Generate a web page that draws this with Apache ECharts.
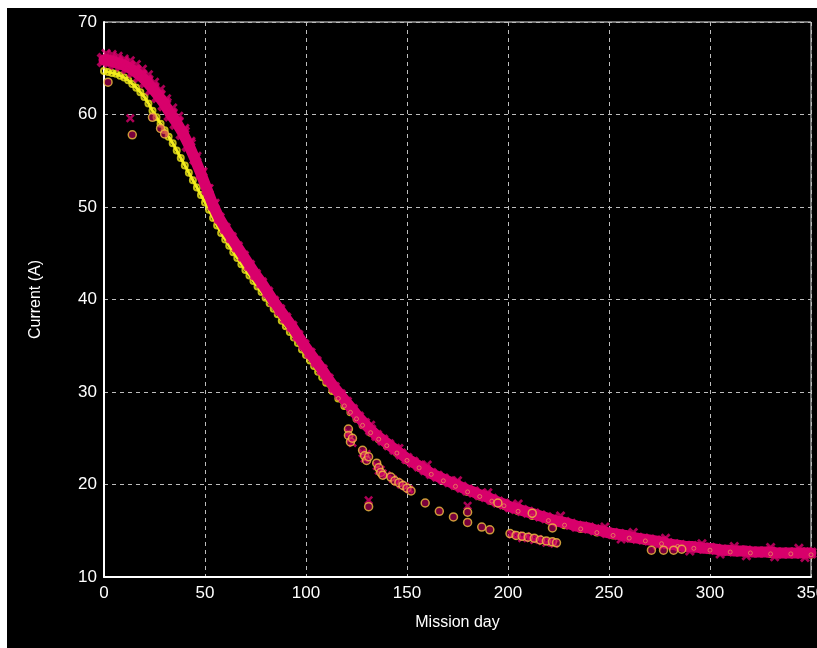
<!DOCTYPE html>
<html>
<head>
<meta charset="utf-8">
<script src="https://cdn.jsdelivr.net/npm/echarts@6/dist/echarts.min.js"></script>
<style>
html,body{margin:0;padding:0;background:#fff;overflow:hidden;}
#chart{position:absolute;left:7px;top:8px;width:810px;height:640px;background:#000;}
</style>
</head>
<body>
<div id="chart"></div>
<script>
// Axis ticks
const xTicks = [0, 50, 100, 150, 200, 250, 300, 350];
const yTicks = [10, 20, 30, 40, 50, 60, 70];

// Main magenta band (mission day, current A)
const magentaBand = [
  [0,65.9],[3,65.8],[6,65.6],[9,65.4],[12,65.1],[15,64.7],[18,64.2],[21,63.6],[24,62.8],[27,62.0],
  [30,61.1],[33,60.0],[36,59.1],[39,58.0],[42,56.7],[45,55.2],[48,53.6],[51,51.9],[54,50.2],[57,48.8],
  [60,47.7],[63,46.7],[66,45.7],[69,44.7],[72,43.7],[75,42.7],[78,41.8],[81,40.8],[84,39.8],[87,38.9],
  [90,38.0],[93,37.1],[96,36.1],[99,35.1],[102,34.2],[105,33.3],[108,32.4],[111,31.4],[114,30.5],[117,29.7],
  [120,28.9],[123,28.1],[126,27.3],[129,26.6],[132,25.9],[135,25.3],[138,24.8],[141,24.3],[144,23.8],[147,23.3],
  [150,22.8],[153,22.4],[156,22.0],[159,21.6],[162,21.2],[165,20.9],[168,20.6],[171,20.3],[174,20.0],[177,19.7],
  [180,19.4],[183,19.2],[186,18.9],[189,18.7],[192,18.4],[195,18.1],[198,17.9],[201,17.6],[204,17.4],[207,17.2],
  [210,17.0],[213,16.8],[216,16.6],[219,16.4],[222,16.2],[225,16.0],[228,15.9],[231,15.7],[234,15.5],[237,15.4],
  [240,15.3],[243,15.1],[246,15.0],[249,14.8],[252,14.7],[255,14.6],[258,14.5],[261,14.3],[264,14.2],[267,14.1],
  [270,14.0],[273,13.9],[276,13.8],[279,13.6],[282,13.5],[285,13.4],[288,13.3],[291,13.3],[294,13.2],[297,13.1],
  [300,13.1],[303,13.0],[306,12.9],[309,12.9],[312,12.8],[315,12.8],[318,12.8],[321,12.7],[324,12.7],[327,12.7],
  [330,12.7],[333,12.6],[336,12.6],[339,12.6],[342,12.6],[345,12.6],[348,12.6],[350,12.6]
];

// Extra crosses scattered around the band edges (texture)
const magentaEdge = [
  [1,66.6],[4,66.5],[7,66.3],[10,66.0],[13,65.8],[16,65.4],[19,64.9],[22,64.3],[25,63.5],[28,62.7],
  [31,61.7],[34,60.7],[37,59.8],[40,58.5],[43,57.1],[46,55.5],[49,53.8],[52,52.0],[55,50.4],
  [132,26.4],[146,23.9],[160,22.1],[175,20.4],[190,19.1],[205,17.9],[226,16.6],[248,15.4],
  [262,14.8],[278,14.2],[296,13.6],[312,13.3],[330,13.2],[344,13.1],
  [256,14.1],[274,13.4],[290,12.8],[305,12.5],[318,12.3],[332,12.2],[347,12.1]
];

// Yellow circle band, lying along the lower edge of the magenta band
const yellowBand = [
  [0,64.7],[2,64.6],[4,64.5],[6,64.4],[8,64.2],[10,64.0],[12,63.7],[14,63.3],[16,62.9],[18,62.4],
  [20,61.9],[22,61.2],[24,60.4],[26,59.7],[28,59.0],[30,58.3],[32,57.6],[34,56.9],[36,56.1],[38,55.3],
  [40,54.5],[42,53.7],[44,52.9],[46,52.1],[48,51.3],[50,50.5],[52,49.7],[54,48.8],[56,48.0],[58,47.2],
  [60,46.5],[62,45.8],[64,45.1],[66,44.5],[68,43.8],[70,43.2],[72,42.6],[74,42.0],[76,41.4],[78,40.8],
  [80,40.2],[82,39.6],[84,39.0],[86,38.4],[88,37.7],[90,37.1],[92,36.5],[94,35.9],[96,35.3],[98,34.6],
  [100,34.0],[102,33.4],[104,32.8],[106,32.2],[108,31.6],[110,31.0],[113,30.1],[116,29.3],[119,28.5],[122,27.8],
  [125,27.1],[128,26.4],[132,25.6],[136,24.9],[140,24.2],[145,23.4],[150,22.6],[156,21.8],[162,21.1],[168,20.4],
  [174,19.8],[180,19.2],[186,18.7],[192,18.2],[198,17.7],[205,17.1],[212,16.6],[220,16.1],[228,15.6],[236,15.2],
  [244,14.8],[252,14.5],[260,14.2],[268,13.9],[276,13.6],[284,13.3],[292,13.1],[300,12.9],[310,12.7],[320,12.6],
  [330,12.5],[340,12.5],[350,12.4]
];

// Off-band points drawn as rings (outliers and the lower branches)
const ringPoints = [
  [2,63.5],[14,57.8],[24,59.7],[28,58.5],[30,57.9],
  [121,26.0],[121,25.3],[122,24.6],[123,25.0],[128,23.7],[129,23.1],[130,22.6],[131,23.0],
  [135,22.3],[136,21.8],[137,21.3],[138,21.0],[142,20.8],[144,20.4],[146,20.2],[148,19.9],[150,19.6],[152,19.3],
  [131,17.6],[159,18.0],[166,17.1],[173,16.5],[180,17.0],[180,15.9],[187,15.4],[191,15.1],[195,18.0],
  [201,14.7],[204,14.5],[207,14.4],[210,14.3],[213,14.2],[216,14.0],[219,13.9],[222,13.8],[224,13.7],
  [212,16.9],[222,15.3],[271,12.9],[277,12.9],[282,12.9],[286,13.0]
];

// Magenta crosses off the main band (isolated marks and lower branches)
const crossPoints = [
  [13,59.6],[131,18.3],[180,17.7],
  [121,25.6],[122,25.0],[123,24.5],[128,23.4],[129,22.8],[130,23.3],[135,22.0],[136,21.5],[137,21.6],[138,21.2],
  [140,21.0],[143,20.6],[145,20.3],[147,20.0],[149,19.8],[151,19.5],
  [202,14.6],[205,14.5],[207,14.2],[209,14.4],[211,14.2],[213,14.0],[215,14.1],[217,13.9],[219,13.7],[221,13.8],[223,13.6]
];

const crossPath = 'path://M0,2L2,0L5,3L8,0L10,2L7,5L10,8L8,10L5,7L2,10L0,8L3,5Z';
const MAGENTA = '#d8006c';
const YELLOW = '#f2ec1c';
const labelFont = 'Liberation Sans, Arial, sans-serif';

const chart = echarts.init(document.getElementById('chart'));
chart.setOption({
  backgroundColor: '#000',
  animation: false,
  grid: {left: 97, right: 6, top: 14, bottom: 71, outerBoundsMode: 'none', containLabel: false,
         show: true, borderColor: '#e8e8e8', borderWidth: 1},
  xAxis: {
    type: 'value', min: xTicks[0], max: xTicks[xTicks.length - 1], interval: 50,
    name: 'Mission day', nameLocation: 'middle', nameGap: 38,
    nameTextStyle: {color: '#fff', fontSize: 16, fontFamily: labelFont},
    axisLine: {show: true, onZero: false, lineStyle: {color: '#fff', width: 2}},
    axisTick: {show: false},
    axisLabel: {color: '#fff', fontSize: 17, fontFamily: labelFont, margin: 8},
    splitLine: {show: true, lineStyle: {color: '#bdbdbd', type: [4, 4], width: 1}}
  },
  yAxis: {
    type: 'value', min: yTicks[0], max: yTicks[yTicks.length - 1], interval: 10,
    name: 'Current (A)', nameLocation: 'middle', nameGap: 60, nameRotate: 90,
    nameTextStyle: {color: '#fff', fontSize: 16, fontFamily: labelFont},
    axisLine: {show: true, onZero: false, lineStyle: {color: '#fff', width: 2}},
    axisTick: {show: false},
    axisLabel: {color: '#fff', fontSize: 17, fontFamily: labelFont, margin: 7},
    splitLine: {show: true, lineStyle: {color: '#bdbdbd', type: [4, 4], width: 1}}
  },
  series: [
    {
      type: 'line', data: yellowBand.filter(function (p) { return p[0] <= 120; }), z: 2,
      showSymbol: false, symbol: 'none', lineStyle: {color: YELLOW, width: 3}
    },
    {
      type: 'scatter', data: yellowBand, z: 2,
      symbol: 'circle', symbolSize: 6,
      itemStyle: {color: 'rgba(0,0,0,0)', borderColor: YELLOW, borderWidth: 2}
    },
    {
      type: 'line', data: magentaBand, z: 3,
      showSymbol: false, symbol: 'none', lineStyle: {color: MAGENTA, width: 11, cap: 'round', join: 'round'}
    },
    {
      type: 'scatter', data: magentaBand, z: 3,
      symbol: crossPath,
      symbolSize: function (v) { return v[0] < 45 ? 15 : 12; },
      itemStyle: {color: MAGENTA}
    },
    {
      type: 'scatter', data: magentaEdge, z: 3,
      symbol: crossPath, symbolSize: 10,
      itemStyle: {color: MAGENTA}
    },
    {
      type: 'scatter', data: yellowBand.filter(function (p) { return p[0] > 115; }), z: 4,
      symbol: 'circle', symbolSize: 4,
      itemStyle: {color: 'rgba(0,0,0,0)', borderColor: 'rgba(240,190,90,0.7)', borderWidth: 1}
    },
    {
      type: 'scatter', data: crossPoints, z: 4,
      symbol: crossPath, symbolSize: 9,
      itemStyle: {color: MAGENTA}
    },
    {
      type: 'scatter', data: ringPoints, z: 5,
      symbol: 'circle', symbolSize: 8,
      itemStyle: {color: 'rgba(200,0,100,0.75)', borderColor: '#f0c040', borderWidth: 1.5}
    }
  ]
});
</script>
</body>
</html>
